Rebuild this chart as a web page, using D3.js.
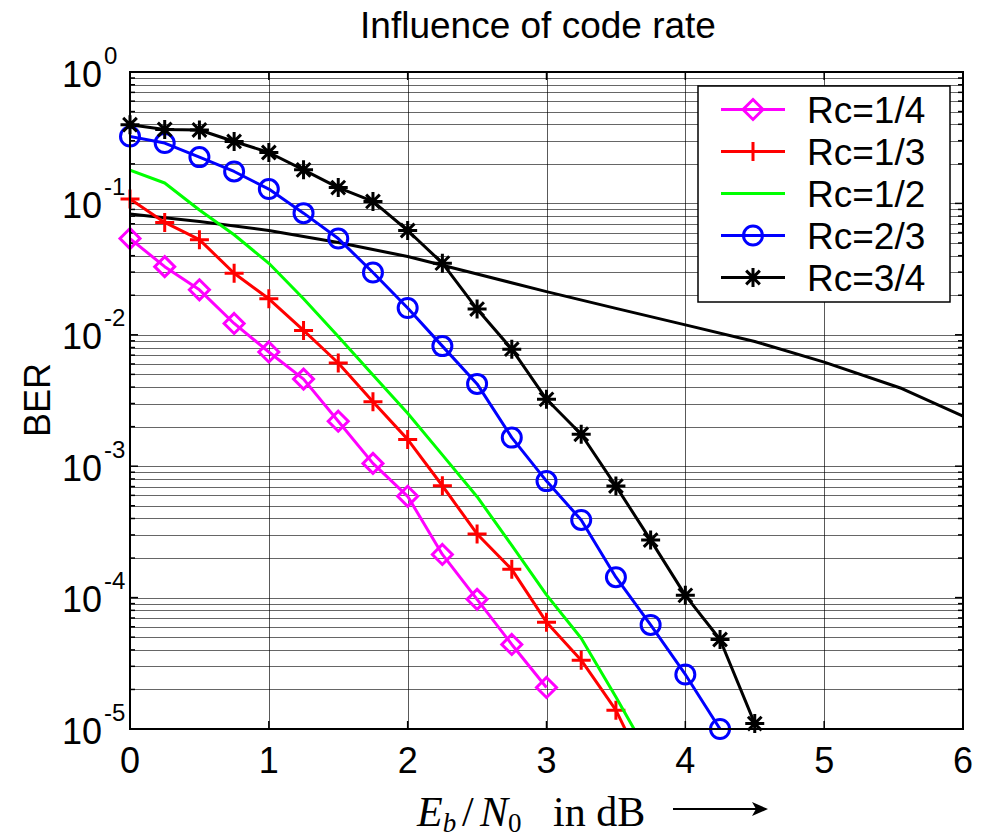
<!DOCTYPE html>
<html>
<head>
<meta charset="utf-8">
<script src="https://cdn.jsdelivr.net/npm/d3@7/dist/d3.min.js"></script>
<style>
  body { margin: 0; background: #fff; }
  svg { display: block; }
  .sans { font-family: "Liberation Sans", Arial, sans-serif; }
  .serif { font-family: "Liberation Serif", "Times New Roman", serif; }
</style>
</head>
<body>
<svg id="chart"></svg>
<script>
var width = 989;
var height = 839;

// data (Eb/N0 in dB, BER)
var ebno = [0, 0.25, 0.5, 0.75, 1, 1.25, 1.5, 1.75, 2, 2.25, 2.5, 2.75, 3, 3.25, 3.5, 3.75, 4, 4.25, 4.5];

var berR14 = [0.054, 0.033, 0.022, 0.0122, 0.0074, 0.0046, 0.0022, 0.00105, 0.00059, 0.000213, 0.000097, 0.000044, 0.0000207];
var berR13 = [0.108, 0.0716, 0.053, 0.0294, 0.0188, 0.0108, 0.0061, 0.0031, 0.0016, 0.00071, 0.000305, 0.000164, 0.000065, 0.0000334, 0.0000139, 0.000004];
var berR12 = [0.179, 0.143, 0.089, 0.0577, 0.035, 0.0188, 0.0097, 0.00495, 0.00253, 0.00122, 0.000586, 0.00025, 0.000105, 0.000049, 0.0000175, 0.000006];
var berR23 = [0.323, 0.288, 0.225, 0.175, 0.1285, 0.0843, 0.054, 0.0298, 0.016, 0.0082, 0.00423, 0.00165, 0.00077, 0.00039, 0.000143, 0.000062, 0.000026, 0.00001];
var berR34 = [0.397, 0.365, 0.362, 0.296, 0.244, 0.18, 0.132, 0.1035, 0.0622, 0.0351, 0.0157, 0.00777, 0.00323, 0.00175, 0.000706, 0.000274, 0.000104, 0.000048, 0.000011];

// uncoded reference curve (no legend entry)
var uncodedX = [0, 0.5, 1, 1.5, 2, 2.5, 3, 3.5, 4, 4.5, 5, 5.56, 6];
var uncodedBer = [0.083, 0.0728, 0.0622, 0.0504, 0.0394, 0.0290, 0.0213, 0.0159, 0.0119, 0.0089, 0.0062, 0.0039, 0.0024];

var seriesNames = ["Rc=1/4", "Rc=1/3", "Rc=1/2", "Rc=2/3", "Rc=3/4"];
var seriesColors = ["#ff00ff", "#ff0000", "#00ff00", "#0000ff", "#000000"];
var seriesMarkers = ["diamond", "plus", "none", "circle", "star"];
var seriesValues = [berR14, berR13, berR12, berR23, berR34];

var xTicks = [0, 1, 2, 3, 4, 5, 6];
var yDecades = [0, -1, -2, -3, -4, -5];

var plotL = 130, plotR = 963, plotT = 72, plotB = 729;

var x = d3.scaleLinear().domain([0, 6]).range([plotL, plotR]);
var y = d3.scaleLog().domain([1e-5, 1]).range([plotB, plotT]);

var svg = d3.select("#chart").attr("width", width).attr("height", height);

// minor + major grid
var minorVals = [];
yDecades.slice(1).forEach(function(d) {
    for (var k = 2; k <= 9; k++) minorVals.push(k * Math.pow(10, d));
});
var grid = svg.append("g").attr("shape-rendering", "crispEdges");
grid.selectAll("line.hy")
    .data(minorVals.concat(yDecades.map(function(d) { return Math.pow(10, d); })))
    .enter().append("line")
    .attr("x1", plotL).attr("x2", plotR)
    .attr("y1", function(d) { return Math.round(y(d)) + 0.5; })
    .attr("y2", function(d) { return Math.round(y(d)) + 0.5; })
    .attr("stroke", "#000").attr("stroke-opacity", 0.6).attr("stroke-width", 1);
grid.selectAll("line.vx")
    .data(xTicks.slice(1, -1))
    .enter().append("line")
    .attr("y1", plotT).attr("y2", plotB)
    .attr("x1", function(d) { return Math.round(x(d)) + 0.5; })
    .attr("x2", function(d) { return Math.round(x(d)) + 0.5; })
    .attr("stroke", "#000").attr("stroke-opacity", 0.65).attr("stroke-width", 1);

// inside ticks
var ticks = svg.append("g").attr("stroke", "#000").attr("stroke-width", 1.5);
xTicks.forEach(function(t) {
    ticks.append("line").attr("x1", x(t)).attr("x2", x(t)).attr("y1", plotB).attr("y2", plotB - 8);
    ticks.append("line").attr("x1", x(t)).attr("x2", x(t)).attr("y1", plotT).attr("y2", plotT + 8);
});
yDecades.forEach(function(d) {
    var v = y(Math.pow(10, d));
    ticks.append("line").attr("x1", plotL).attr("x2", plotL + 8).attr("y1", v).attr("y2", v);
    ticks.append("line").attr("x1", plotR).attr("x2", plotR - 8).attr("y1", v).attr("y2", v);
});
minorVals.forEach(function(m) {
    var v = y(m);
    ticks.append("line").attr("x1", plotL).attr("x2", plotL + 5).attr("y1", v).attr("y2", v);
    ticks.append("line").attr("x1", plotR).attr("x2", plotR - 5).attr("y1", v).attr("y2", v);
});

// x tick labels
svg.append("g").attr("class", "sans")
    .selectAll("text").data(xTicks).enter().append("text")
    .attr("x", function(d) { return x(d); })
    .attr("y", plotB + 44)
    .attr("text-anchor", "middle")
    .attr("font-size", 36)
    .text(function(d) { return d; });

// y tick labels 10^k
var yl = svg.append("g").attr("class", "sans");
yDecades.forEach(function(d) {
    var v = y(Math.pow(10, d));
    yl.append("text").attr("x", 62).attr("y", v + 14.5).attr("font-size", 36).text("10");
    yl.append("text").attr("x", 104).attr("y", v - 8.5).attr("font-size", 24).text(String(d));
});

// clip for lines
svg.append("clipPath").attr("id", "plotclip")
    .append("rect").attr("x", plotL).attr("y", plotT).attr("width", plotR - plotL).attr("height", plotB - plotT);

var line = d3.line()
    .x(function(d) { return x(d[0]); })
    .y(function(d) { return y(d[1]); });

function markerPath(type, s) {
    var p = d3.path();
    if (type === "diamond") {
        p.moveTo(0, -s); p.lineTo(s, 0); p.lineTo(0, s); p.lineTo(-s, 0); p.closePath();
    } else if (type === "plus") {
        p.moveTo(-s, 0); p.lineTo(s, 0); p.moveTo(0, -s); p.lineTo(0, s);
    } else if (type === "star") {
        var a = s * 0.72;
        p.moveTo(-s, 0); p.lineTo(s, 0); p.moveTo(0, -s); p.lineTo(0, s);
        p.moveTo(-a, -a); p.lineTo(a, a); p.moveTo(-a, a); p.lineTo(a, -a);
    } else if (type === "circle") {
        p.moveTo(s, 0);
        p.arc(0, 0, s, 0, 2 * Math.PI);
    }
    return p.toString();
}
var markerSize = { diamond: 10, plus: 9.5, star: 9.5, circle: 9.5 };

var plot = svg.append("g");

// uncoded curve
plot.append("path")
    .datum(uncodedX.map(function(v, i) { return [v, uncodedBer[i]]; }))
    .attr("clip-path", "url(#plotclip)")
    .attr("fill", "none").attr("stroke", "#000").attr("stroke-width", 3)
    .attr("stroke-linejoin", "round")
    .attr("d", line);

seriesValues.forEach(function(vals, si) {
    var pts = vals.map(function(v, i) { return [ebno[i], v]; });
    plot.append("path")
        .datum(pts)
        .attr("clip-path", "url(#plotclip)")
        .attr("fill", "none")
        .attr("stroke", seriesColors[si])
        .attr("stroke-width", 3)
        .attr("stroke-linejoin", "round")
        .attr("d", line);
    if (seriesMarkers[si] !== "none") {
        plot.append("g").selectAll("path")
            .data(pts.filter(function(p) { return p[1] >= 1e-5; }))
            .enter().append("path")
            .attr("transform", function(p) { return "translate(" + x(p[0]) + "," + y(p[1]) + ")"; })
            .attr("d", markerPath(seriesMarkers[si], markerSize[seriesMarkers[si]]))
            .attr("fill", "none")
            .attr("stroke", seriesColors[si])
            .attr("stroke-width", 3);
    }
});

// axes box
svg.append("rect")
    .attr("x", plotL).attr("y", plotT).attr("width", plotR - plotL).attr("height", plotB - plotT)
    .attr("fill", "none").attr("stroke", "#000").attr("stroke-width", 2);

// legend
var lg = svg.append("g");
lg.append("rect").attr("x", 698).attr("y", 86).attr("width", 252).attr("height", 216)
    .attr("fill", "#fff").attr("stroke", "#000").attr("stroke-width", 1.5);
seriesNames.forEach(function(name, i) {
    var ry = 109.5 + 42 * i;
    lg.append("line").attr("x1", 721).attr("x2", 785).attr("y1", ry).attr("y2", ry)
        .attr("stroke", seriesColors[i]).attr("stroke-width", 3);
    if (seriesMarkers[i] !== "none") {
        lg.append("path").attr("transform", "translate(753," + ry + ")")
            .attr("d", markerPath(seriesMarkers[i], markerSize[seriesMarkers[i]]))
            .attr("fill", "none").attr("stroke", seriesColors[i])
            .attr("stroke-width", 3);
    }
    lg.append("text").attr("class", "sans").attr("x", 807).attr("y", ry + 13)
        .attr("font-size", 37).text(name);
});

// title
svg.append("text").attr("class", "sans")
    .attr("x", 538).attr("y", 38).attr("text-anchor", "middle")
    .attr("font-size", 37).text("Influence of code rate");

// y label
svg.append("text").attr("class", "sans")
    .attr("transform", "translate(50,400) rotate(-90)")
    .attr("text-anchor", "middle").attr("font-size", 36).text("BER");

// x label
var xl = svg.append("text").attr("class", "serif").attr("y", 826).attr("font-size", 42)
    .style("white-space", "pre");
xl.append("tspan").attr("x", 417).attr("font-style", "italic").text("E");
xl.append("tspan").attr("dy", 6).attr("font-size", 27).attr("font-style", "italic").text("b");
xl.append("tspan").attr("x", 462).attr("dy", -6).text("/");
xl.append("tspan").attr("x", 480).attr("font-style", "italic").text("N");
xl.append("tspan").attr("dy", 6).attr("font-size", 27).text("0");
xl.append("tspan").attr("x", 553).attr("dy", -6).text("in dB");

// arrow
svg.append("line").attr("x1", 673).attr("x2", 766).attr("y1", 809).attr("y2", 809)
    .attr("stroke", "#000").attr("stroke-width", 2);
svg.append("path").attr("d", "M752,802 L768,809 L752,816 L756,809 Z").attr("fill", "#000");
</script>
</body>
</html>
